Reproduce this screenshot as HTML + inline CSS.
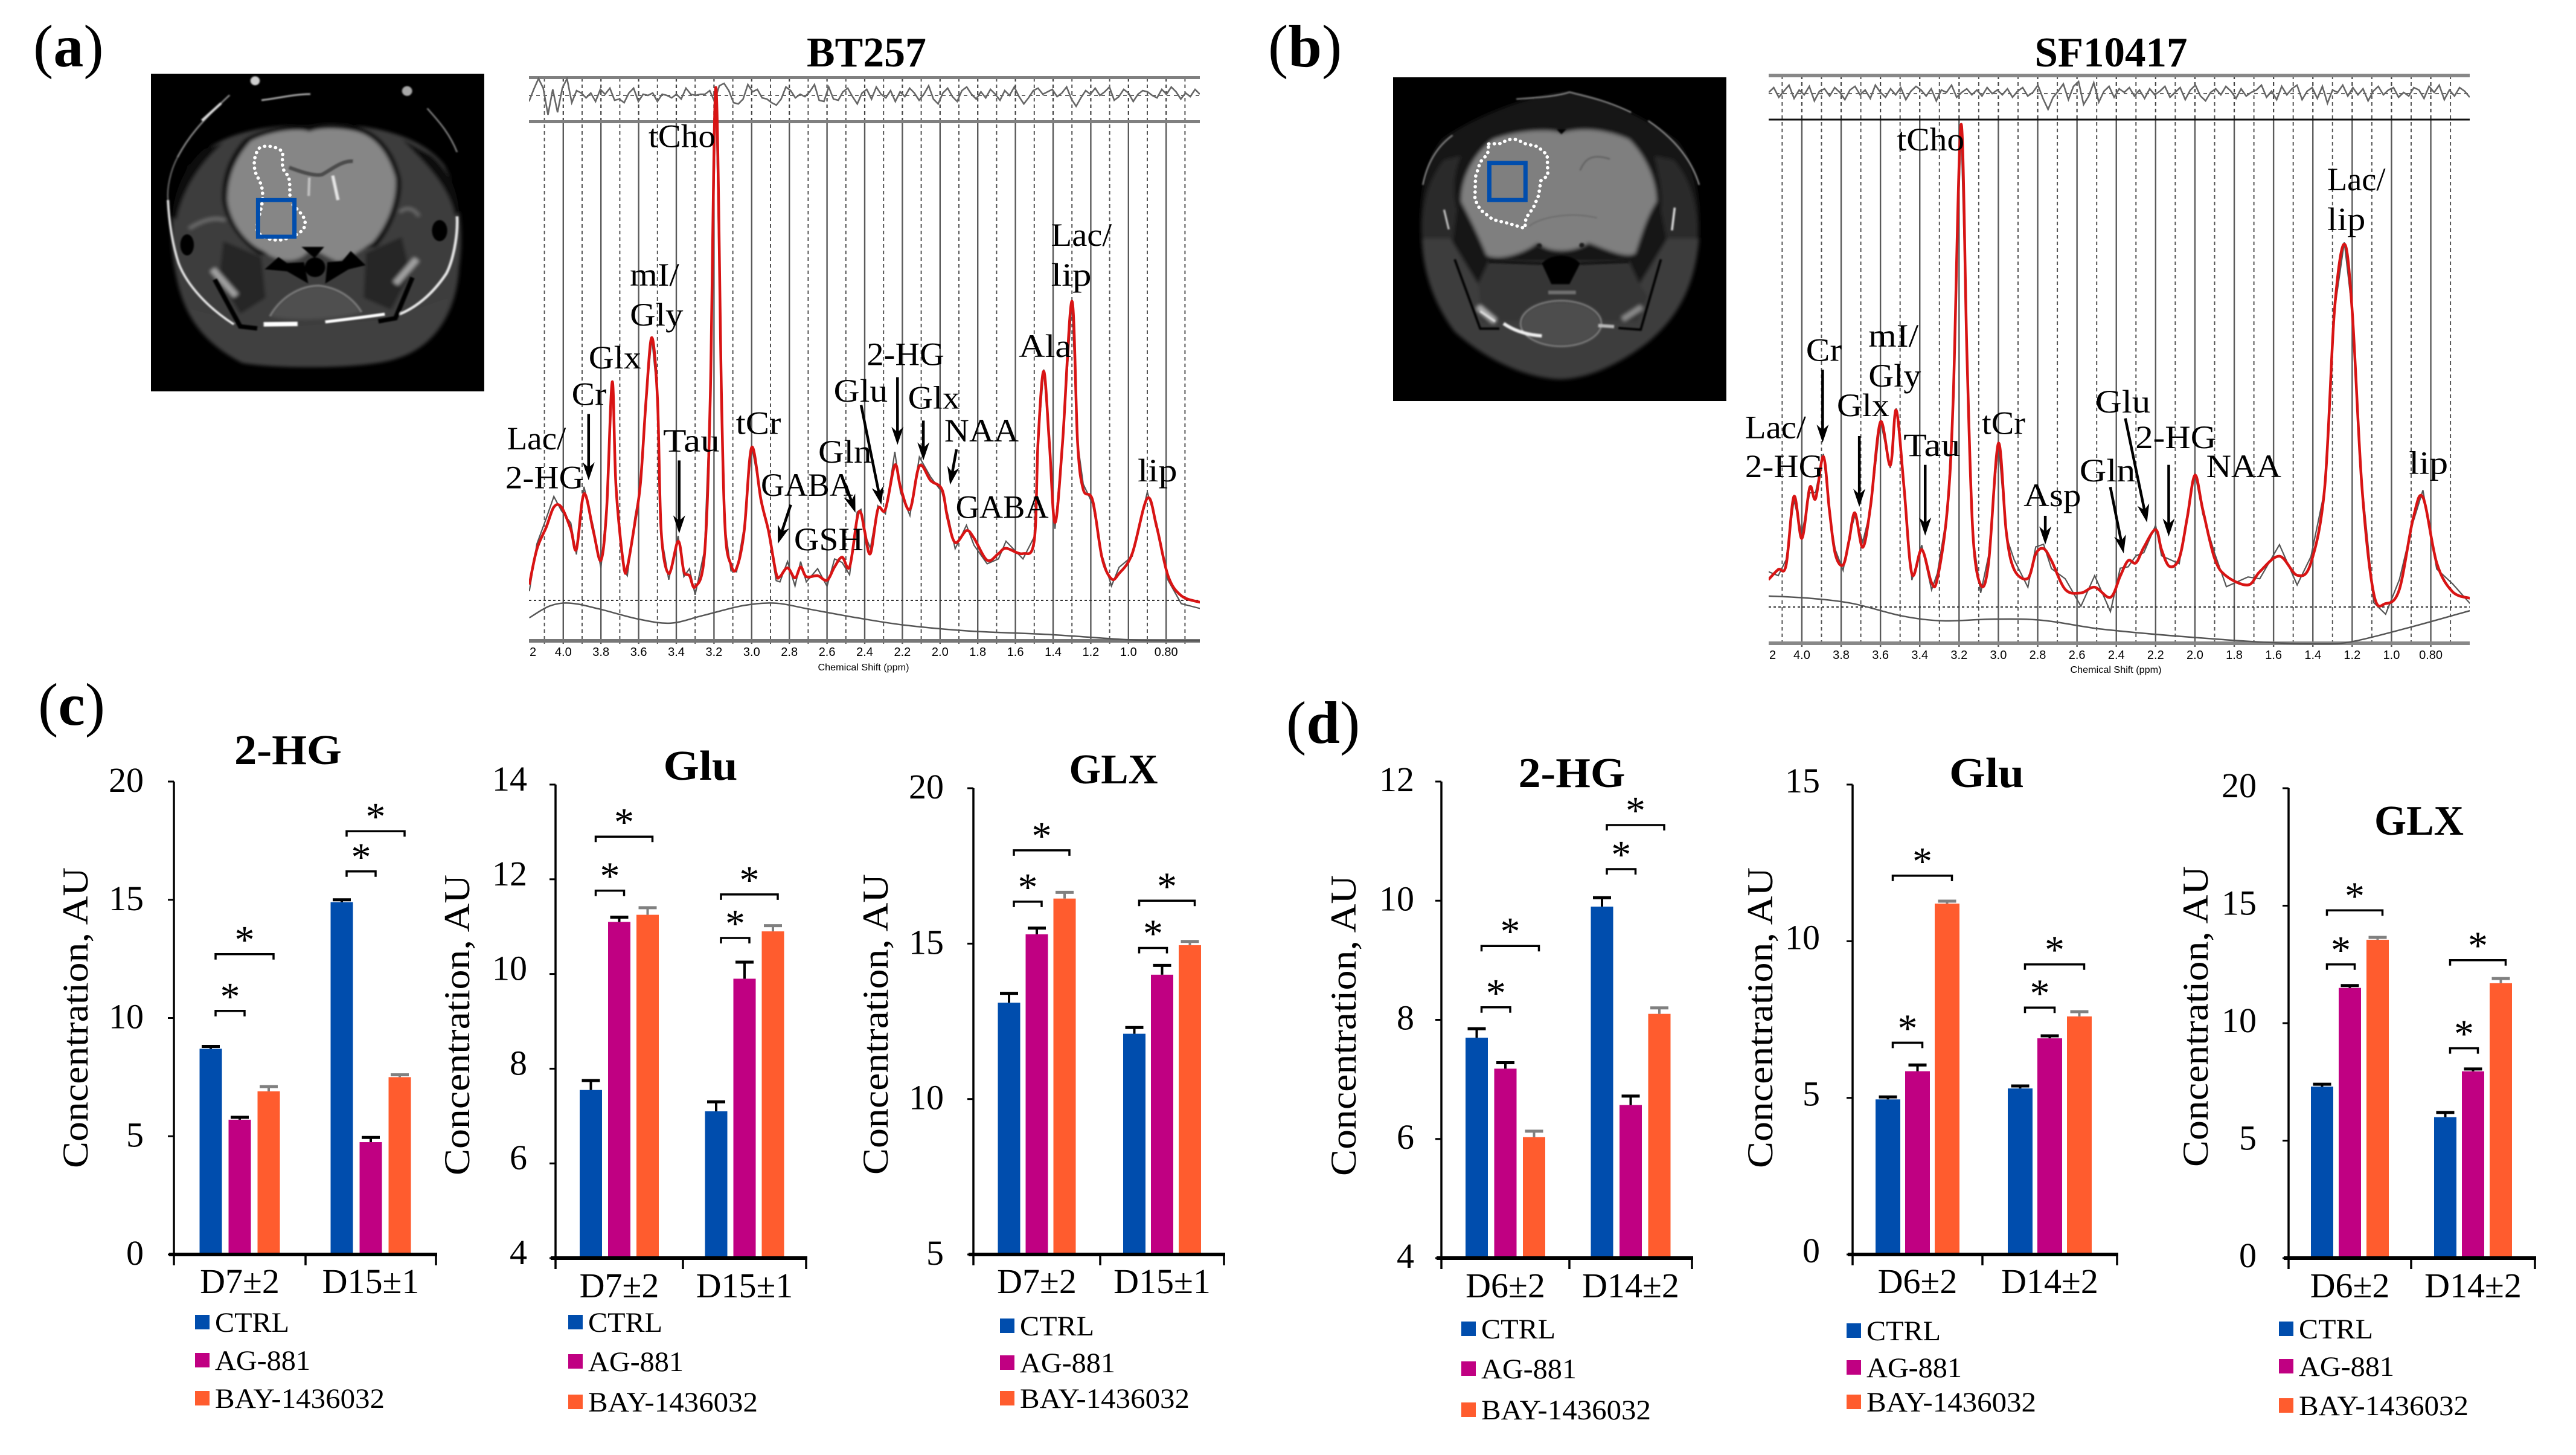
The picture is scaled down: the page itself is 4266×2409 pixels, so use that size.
<!DOCTYPE html>
<html lang="en">
<head>
<meta charset="utf-8">
<title>MRS spectra and metabolite concentrations</title>
<style>
html,body{margin:0;padding:0;background:#fff;}
svg{display:block;}
text{font-family:"Liberation Serif",serif;fill:#000;}
.sans{font-family:"Liberation Sans",sans-serif;}
</style>
</head>
<body>
<svg id="figure" xmlns="http://www.w3.org/2000/svg" width="4266" height="2409" viewBox="0 0 4266 2409">
  <defs>
    <filter id="soft" x="-5%" y="-5%" width="110%" height="110%"><feGaussianBlur stdDeviation="9"></feGaussianBlur></filter>
    <filter id="fine" x="-10%" y="-10%" width="120%" height="120%"><feGaussianBlur stdDeviation="3.5"></feGaussianBlur></filter>
    <clipPath id="clip-a"><rect x="876" y="128" width="1111" height="940"></rect></clipPath>
    <clipPath id="clip-b"><rect x="2929" y="125" width="1161" height="945"></rect></clipPath>
    <clipPath id="mri-clip-a"><rect x="0" y="0" width="1568" height="1559"></rect></clipPath>
    <clipPath id="mri-clip-b"><rect x="0" y="0" width="1568" height="1565"></rect></clipPath>
  </defs>
  <rect width="4266" height="2409" fill="#fff"></rect>

  <g transform="translate(250,122) scale(0.352,0.3374)">
    <rect x="0" y="0" width="1568" height="1559" fill="#000"></rect>
    <g clip-path="url(#mri-clip-a)">
      <g filter="url(#soft)">
        <path d="M780,250 C500,250 300,300 180,450 C90,600 80,800 120,1000 C150,1150 210,1300 430,1420 C600,1450 1000,1450 1150,1400 C1350,1340 1440,1150 1450,950 C1470,800 1460,600 1380,450 C1280,310 1050,240 780,250Z" fill="#3d3d3d"></path>
        <path d="M100,700 C110,560 170,440 250,370 L340,340 C240,430 150,560 120,720Z" fill="#0c0c0c"></path>
        <path d="M1450,680 C1440,560 1400,470 1320,400 L1180,320 C1280,430 1400,540 1430,700Z" fill="#0c0c0c"></path>
        <path d="M745,250 C640,250 520,270 440,320 C360,410 330,520 335,620 C345,720 420,830 510,890 L1060,850 C1130,770 1190,620 1175,510 C1150,400 1090,290 960,255Z" fill="#0e0e0e"></path>
        <path d="M340,820 L520,900 L540,1100 L420,1180 L320,1000Z" fill="#282828"></path>
        <path d="M1180,800 L1010,880 L1000,1100 L1130,1160 L1220,980Z" fill="#262626"></path>
        <path d="M745,285 C700,265 560,280 470,330 C390,420 360,520 360,620 C370,720 440,830 530,870 C600,930 700,930 740,870 C790,860 820,900 880,920 C950,900 990,860 1040,830 C1110,750 1160,620 1150,510 C1120,400 1060,300 950,280 C870,265 790,265 745,285Z" fill="#868686"></path>
        <path d="M170,1150 L520,1250 L1100,1210 L1400,1100 C1370,1260 1280,1350 1150,1400 C1000,1450 600,1450 430,1420 C300,1350 210,1260 170,1150Z" fill="#414141"></path>
        <path d="M560,1190 C620,1080 720,1040 790,1040 C880,1050 950,1100 990,1170 C900,1200 700,1220 560,1190Z" fill="#505050"></path>
        <path d="M290,960 L400,1090" fill="none" stroke="#a0a0a0" stroke-width="30"></path>
        <path d="M1250,910 L1150,1030" fill="none" stroke="#a0a0a0" stroke-width="30"></path>
        <path d="M180,760 C240,720 300,700 350,720" fill="none" stroke="#6c6c6c" stroke-width="16"></path>
        <path d="M1170,680 C1200,650 1240,660 1260,700" fill="none" stroke="#6c6c6c" stroke-width="14"></path>
      </g>
      <g filter="url(#fine)">
        <path d="M650,460 C700,480 770,505 805,495 C850,470 900,425 950,430" fill="none" stroke="#4c4c4c" stroke-width="18"></path>
        <path d="M745,510 L742,600" fill="none" stroke="#c4c4c4" stroke-width="12"></path>
        <path d="M855,500 L880,620" fill="none" stroke="#e6e6e6" stroke-width="15"></path>
        <path d="M708,850 L815,850 L770,905Z" fill="#000"></path>
        <circle cx="772" cy="950" r="48" fill="#000"></circle>
        <path d="M535,960 L600,900 L640,930 L720,925 L740,1030 L640,970Z" fill="#000"></path>
        <path d="M1010,940 L940,870 L900,920 L830,925 L820,1030 L930,960Z" fill="#000"></path>
        <path d="M560,1190 C620,1080 720,1040 790,1040 C880,1050 950,1100 990,1170" fill="none" stroke="#767676" stroke-width="10"></path>
        <path d="M530,1230 L690,1228" fill="none" stroke="#fff" stroke-width="22"></path>
        <path d="M820,1218 C900,1208 1000,1195 1100,1180" fill="none" stroke="#fff" stroke-width="15"></path>
        <path d="M80,620 C85,740 105,850 130,930 C170,1040 270,1150 390,1230" fill="none" stroke="#e6e6e6" stroke-width="11"></path>
        <path d="M1440,700 C1445,800 1420,920 1390,980 C1320,1090 1240,1150 1170,1180" fill="none" stroke="#e6e6e6" stroke-width="13"></path>
        <path d="M125,410 C90,480 75,560 80,620" fill="none" stroke="#7a7a7a" stroke-width="6"></path>
        <path d="M125,410 C170,320 230,240 370,105" fill="none" stroke="#8c8c8c" stroke-width="8"></path>
        <path d="M240,230 L330,145" fill="none" stroke="#dcdcdc" stroke-width="12"></path>
        <path d="M520,130 C600,120 680,100 750,100" fill="none" stroke="#a4a4a4" stroke-width="9"></path>
        <path d="M1300,170 C1340,220 1400,280 1440,385" fill="none" stroke="#8a8a8a" stroke-width="7"></path>
        <circle cx="490" cy="35" r="22" fill="#cfcfcf"></circle>
        <circle cx="1205" cy="85" r="24" fill="#a8a8a8"></circle>
        <path d="M300,1010 L420,1240 L500,1250" fill="none" stroke="#000" stroke-width="22"></path>
        <path d="M1230,1000 L1150,1200 L1070,1215" fill="none" stroke="#000" stroke-width="22"></path>
        <ellipse cx="170" cy="840" rx="32" ry="52" fill="#000"></ellipse>
        <ellipse cx="1358" cy="770" rx="36" ry="52" fill="#000"></ellipse>
      </g>
      <path d="M510,365 C540,345 600,360 620,385 C620,420 610,460 635,490 C660,510 650,560 655,620 C670,660 730,690 725,740 C720,780 670,800 620,815 C570,820 520,810 500,770 C495,720 530,650 525,590 C525,540 500,510 490,480 C480,430 490,390 510,365Z" fill="none" stroke="#fff" stroke-width="16" stroke-linecap="round" stroke-dasharray="1 25"></path>
      <rect x="504" y="620" width="171" height="180" fill="none" stroke="#004dad" stroke-width="20"></rect>
    </g>
  </g>

  <g transform="translate(2307,128) scale(0.352,0.3425)">
    <rect x="0" y="0" width="1568" height="1565" fill="#000"></rect>
    <g clip-path="url(#mri-clip-b)">
      <g filter="url(#soft)">
        <path d="M130,780 C120,600 150,400 230,300 C350,210 600,90 830,70 C1000,100 1200,200 1340,310 C1420,420 1450,600 1440,780 C1420,1000 1350,1150 1200,1280 C1050,1400 900,1460 780,1460 C600,1450 420,1350 290,1230 C180,1080 140,920 130,780Z" fill="#141414"></path>
        <path d="M140,780 C130,640 160,500 240,400 L320,380 C280,470 280,560 300,640 L280,800Z" fill="#2a2a2a"></path>
        <path d="M1430,780 C1440,640 1400,490 1320,400 L1230,380 C1250,470 1270,560 1260,640 L1290,800Z" fill="#2a2a2a"></path>
        <path d="M140,780 L270,780 L400,1000 L450,890 L1110,890 L1160,1000 L1290,780 L1440,780 C1420,1000 1350,1150 1200,1280 C1050,1400 900,1460 780,1460 C600,1450 420,1350 290,1230 C180,1080 140,920 140,780Z" fill="#3c3c3c"></path>
        <path d="M400,1000 L450,890 L1110,890 L1160,1000 L1200,1060 L1150,1180 L420,1180Z" fill="#363636"></path>
        <path d="M790,270 C760,250 600,250 470,300 C380,370 320,480 320,600 C360,680 400,760 440,860 C500,890 620,850 680,800 C730,850 850,850 920,800 C1000,830 1100,880 1140,850 C1170,760 1190,680 1240,600 C1240,500 1190,380 1110,300 C1000,250 880,240 790,270Z" fill="#7f7f7f"></path>
        <ellipse cx="790" cy="1190" rx="190" ry="110" fill="#4e4e4e"></ellipse>
        <path d="M400,1110 L480,1180" fill="none" stroke="#b8b8b8" stroke-width="26"></path>
        <path d="M1170,1110 L1080,1170" fill="none" stroke="#8e8e8e" stroke-width="24"></path>
      </g>
      <g filter="url(#fine)">
        <path d="M770,250 L815,250 L792,275Z" fill="#000"></path>
        <path d="M880,450 C900,400 930,365 1020,395" fill="none" stroke="#646464" stroke-width="8"></path>
        <path d="M640,720 C700,670 850,650 960,680" fill="none" stroke="#6a6a6a" stroke-width="6"></path>
        <path d="M700,900 C740,850 840,850 880,900 L830,1000 L745,1000Z" fill="#000"></path>
        <path d="M450,890 L700,900" fill="none" stroke="#141414" stroke-width="14"></path>
        <path d="M880,900 L1110,890" fill="none" stroke="#141414" stroke-width="14"></path>
        <circle cx="688" cy="815" r="12" fill="#1c1c1c"></circle>
        <circle cx="888" cy="812" r="12" fill="#1c1c1c"></circle>
        <ellipse cx="790" cy="1190" rx="190" ry="110" fill="none" stroke="#7a7a7a" stroke-width="8"></ellipse>
        <path d="M730,1040 L860,1040" fill="none" stroke="#707070" stroke-width="18"></path>
        <path d="M520,1190 C570,1225 630,1245 700,1250" fill="none" stroke="#f0f0f0" stroke-width="16"></path>
        <path d="M965,1200 L1040,1205" fill="none" stroke="#b8b8b8" stroke-width="16"></path>
        <path d="M410,1130 L480,1180" fill="none" stroke="#dcdcdc" stroke-width="10"></path>
        <path d="M290,880 L410,1215 L500,1215" fill="none" stroke="#000" stroke-width="11"></path>
        <path d="M1260,880 L1165,1220 L1060,1212" fill="none" stroke="#000" stroke-width="11"></path>
        <path d="M240,640 L262,735" fill="none" stroke="#c8c8c8" stroke-width="9"></path>
        <path d="M1325,630 L1312,740" fill="none" stroke="#e0e0e0" stroke-width="10"></path>
        <path d="M140,520 C160,420 200,340 280,280" fill="none" stroke="#8c8c8c" stroke-width="7"></path>
        <path d="M580,105 C650,100 760,95 830,72 C900,90 1000,110 1120,170" fill="none" stroke="#a0a0a0" stroke-width="6"></path>
        <path d="M1200,210 C1300,280 1400,380 1440,520" fill="none" stroke="#969696" stroke-width="7"></path>
      </g>
      <path d="M450,322 L510,320 C540,295 580,290 610,318 L680,335 L725,375 L728,475 L695,500 L685,570 L660,630 L625,680 L620,730 L540,705 L470,688 L410,640 L385,590 L388,480 L410,410 L445,370Z" fill="none" stroke="#fff" stroke-width="16" stroke-linecap="round" stroke-dasharray="1 25"></path>
      <rect x="453" y="414" width="170" height="179" fill="none" stroke="#004dad" stroke-width="20"></rect>
    </g>
  </g>
</svg>
<script>
/* ---------- spectrum data: ppm positions and signal intensity (arbitrary units) ---------- */
const ppmA = [4.18,4.14,4.09,4.05,4.01,3.96,3.93,3.89,3.84,3.80,3.77,3.74,3.72,3.68,3.66,3.62,3.59,3.56,3.53,3.50,3.48,3.44,3.39,3.36,3.33,3.30,3.25,3.22,3.19,3.16,3.14,3.11,3.08,3.04,3.00,2.95,2.91,2.87,2.85,2.81,2.77,2.74,2.71,2.65,2.60,2.56,2.52,2.48,2.44,2.42,2.40,2.37,2.33,2.29,2.24,2.21,2.16,2.11,2.05,1.99,1.96,1.92,1.86,1.82,1.75,1.69,1.65,1.56,1.50,1.48,1.45,1.42,1.39,1.35,1.30,1.27,1.24,1.19,1.14,1.09,1.05,0.98,0.90,0.85,0.79,0.72,0.62];
const fitA = [12.7,20.7,25.7,30.2,30.2,25.2,20.7,33.2,24.7,18.2,29.7,58.5,34.7,17.2,16.7,26.7,35.7,54.7,68.5,54.7,24.7,15.2,22.5,15.7,14.7,12.2,19.7,54.7,125,54.7,24.7,17.2,16.4,24.7,43.7,31.7,24.7,15.2,14.5,16.5,14.2,16.7,14.5,14.7,13.7,16.7,18.9,16.7,27.7,28.9,24.7,19.7,29.7,29.7,39.7,34.7,29.7,39.5,36.2,34.2,27.7,22.2,24.9,23.2,18.2,19.7,20.9,19.7,22.7,44.7,60.9,44.7,26.7,44.7,76.7,44.7,34.2,31.7,18.7,14.0,15.2,19.7,32.2,25.7,14.7,10.2,8.7];
const rawOffsetA = [-1.5,1.2,2.0,2.4,-0.8,1.4,-1.2,1.6,1.0,-1.8,0.6,0,0.8,-1.2,-2.0,1.2,-0.6,0.4,0,0.6,-0.8,-1.4,1.2,-1.2,1.6,-1.8,0.8,0,0,0,0.6,-1.4,-0.8,1.0,0.4,0.8,-0.6,-1.6,-1.2,1.4,-1.8,1.2,-1.2,1.6,-1.4,1.8,-1.2,-1.8,1.4,0.8,-0.6,1.2,0.8,-1.0,3.0,-1.2,-1.4,2.0,0.8,-0.6,1.0,-1.4,1.2,-1.6,-0.8,-1.2,1.6,-1.2,0.8,0,0.4,0,-1.4,0,0,0,1.2,-0.8,0.6,-1.6,1.4,-0.6,1.4,0.8,-1.0,-1.8,-1.4];
const baselinePpmA = [4.18,4.07,3.96,3.81,3.60,3.43,3.26,3.04,2.87,2.70,2.44,2.18,1.84,1.41,0.98,0.62];
const baselineA = [5.2,7.9,8.5,7.2,4.9,4.0,5.7,8.0,8.5,7.2,5.2,3.5,2.2,1.4,0.2,0];
const residualA = [-10,10,28,12,-32,10,-28,12,28,-12,8,4,-4,4,-10,10,2,12,-8,-6,-12,4,12,-10,2,0,4,-10,2,0,-4,2,-6,12,2,0,2,2,8,-10,16,20,8,-12,-14,-6,18,6,10,-4,-6,-12,-16,-6,14,8,-4,2,-2,6,18,-8,-10,14,-6,-8,6,12,-2,-14,4,10,-6,14,2,-4,8,-10,6,-2,12,4,-8,2,16,-6,-14,4,12,-2,-10,8,14,2,-6,6,-4,10,2,-8,8,0,14,-2,-14,-4,8,12,2,6,10,-2,4,14,-6,-18,-4,8,2,12,0,6,14,-8,-2,10,4,-10,2,8,6,0,-4,10,2,14,6,-6,4,-2,10,2];
const ppmB = [4.17,4.12,4.08,4.04,4.00,3.96,3.93,3.89,3.86,3.83,3.79,3.76,3.73,3.69,3.65,3.60,3.55,3.52,3.48,3.44,3.39,3.34,3.31,3.26,3.23,3.19,3.16,3.13,3.09,3.05,3.00,2.96,2.92,2.85,2.81,2.77,2.73,2.66,2.58,2.51,2.43,2.38,2.34,2.30,2.26,2.20,2.17,2.13,2.08,2.04,2.00,1.96,1.90,1.84,1.73,1.67,1.57,1.48,1.41,1.34,1.29,1.24,1.20,1.15,1.09,1.03,0.96,0.89,0.84,0.77,0.69,0.60];
const fitB = [14.5,16.8,17.8,33.3,23.8,35.3,32.8,42.3,30.3,20.3,17.8,23.3,29.6,21.8,31.3,50.1,40.3,52.8,35.3,15.8,21.3,13.8,14.8,30.3,55.3,117.3,65.3,25.3,13.3,18.3,45.3,25.3,16.8,14.8,20.3,21.5,18.8,12.3,11.5,12.8,10.5,15.3,18.8,18.3,21.8,25.8,21.3,17.5,19.3,28.3,38.1,30.3,19.3,15.3,13.3,16.3,19.8,15.5,18.3,35.3,75.3,90.3,75.3,35.3,11.3,9.1,12.3,28.3,33.1,18.3,11.8,10.3];
const rawOffsetB = [1.8,-1.4,1.2,-0.8,1.0,-1.2,1.4,0.6,-0.8,1.0,-1.2,0.8,-0.6,1.2,-1.0,0.4,-0.6,0.4,0.8,-1.4,1.0,-1.6,1.2,-0.6,0.4,0,0.6,-0.8,-1.8,1.6,0.4,-1.0,2.2,-2.0,1.6,1.0,-1.8,2.4,-3.0,2.6,-3.2,1.8,-1.4,1.6,-1.2,1.0,-1.4,1.6,-1.2,0.8,0.6,-1.0,1.2,-2.4,1.8,-1.6,2.6,-2.2,1.4,-0.6,0,0.4,0,0.8,-2.0,-2.4,2.2,-0.8,1.6,-1.4,1.8,-1.2];
const baselinePpmB = [4.17,3.96,3.74,3.49,3.28,3.02,2.77,2.47,2.05,1.62,1.37,1.20,0.90,0.60];
const baselineB = [10.8,10.3,9.1,6.3,5.2,5.6,5.3,3.3,1.6,0.3,0,0.5,3.8,7.5];
const residualB = [2,10,-6,4,14,-8,6,-2,12,-12,4,8,-4,10,2,-10,6,12,-2,6,-8,14,2,-6,8,-2,10,-10,4,12,6,-4,8,-12,6,2,14,-6,2,8,-2,6,-4,10,0,6,-2,8,-6,4,10,-4,2,14,-8,-26,-6,4,16,-10,12,20,-18,-4,18,-14,4,12,-6,8,2,10,-4,6,-8,8,-2,4,12,-6,2,10,-10,6,14,-4,-12,2,8,-2,12,4,-8,8,-4,2,6,14,-6,4,-10,12,-2,8,14,-10,4,10,-8,12,-16,6,2,14,-4,10,-2,8,-12,4,12,-2,6,10,-6,2,-4,10,6,-8,12,2,14,-10,6,-4,10,4,-6];

const gridSolidPpm = [4.0,3.8,3.6,3.4,3.2,3.0,2.8,2.6,2.4,2.2,2.0,1.8,1.6,1.4,1.2,1.0,0.8];
const gridDashedPpm = [4.1,3.9,3.7,3.5,3.3,3.1,2.9,2.7,2.5,2.3,2.1,1.9,1.7,1.5,1.3,1.1,0.9,0.7];
const ppmTickLabels = ['4.0','3.8','3.6','3.4','3.2','3.0','2.8','2.6','2.4','2.2','2.0','1.8','1.6','1.4','1.2','1.0','0.80'];

/* ---------- bar-chart data ---------- */
const seriesLabels = ['CTRL','AG-881','BAY-1436032'];
const categoriesC = ['D7±2','D15±1'];
const categoriesD = ['D6±2','D14±2'];

const c1Ctrl = [8.7,14.9];  const c1Ag = [5.7,4.75]; const c1Bay = [6.9,7.5];
const c1CtrlErr = [0.1,0.1]; const c1AgErr = [0.1,0.2]; const c1BayErr = [0.2,0.1];
const c1Ticks = [0,5,10,15,20];
const c1Brackets = [[0,1,10.3],[0,2,12.7],[1,1,16.2],[1,2,17.9]];

const c2Ctrl = [7.55,7.1];  const c2Ag = [11.1,9.9]; const c2Bay = [11.25,10.9];
const c2CtrlErr = [0.2,0.2]; const c2AgErr = [0.1,0.35]; const c2BayErr = [0.15,0.12];
const c2Ticks = [4,6,8,10,12,14];
const c2Brackets = [[0,1,11.76],[0,2,12.9],[1,1,10.76],[1,2,11.68]];

const c3Ctrl = [13.1,12.1]; const c3Ag = [15.3,14.0]; const c3Bay = [16.45,14.95];
const c3CtrlErr = [0.3,0.2]; const c3AgErr = [0.2,0.3]; const c3BayErr = [0.2,0.12];
const c3Ticks = [5,10,15,20];
const c3Brackets = [[0,1,16.35],[0,2,18.0],[1,1,14.86],[1,2,16.38]];

const d1Ctrl = [7.7,9.9];   const d1Ag = [7.18,6.57]; const d1Bay = [6.03,8.1];
const d1CtrlErr = [0.15,0.15]; const d1AgErr = [0.1,0.15]; const d1BayErr = [0.1,0.1];
const d1Ticks = [4,6,8,10,12];
const d1Brackets = [[0,1,8.21],[0,2,9.24],[1,1,10.53],[1,2,11.27]];

const d2Ctrl = [4.95,5.3];  const d2Ag = [5.85,6.9]; const d2Bay = [11.2,7.6];
const d2CtrlErr = [0.08,0.08]; const d2AgErr = [0.2,0.08]; const d2BayErr = [0.08,0.15];
const d2Ticks = [0,5,10,15];
const d2Brackets = [[0,1,6.76],[0,2,12.09],[1,1,7.88],[1,2,9.26]];

const d3Ctrl = [7.3,6.0];   const d3Ag = [11.5,7.95]; const d3Bay = [13.55,11.7];
const d3CtrlErr = [0.1,0.2]; const d3AgErr = [0.1,0.1]; const d3BayErr = [0.1,0.2];
const d3Ticks = [0,5,10,15,20];
const d3Brackets = [[0,1,12.5],[0,2,14.8],[1,1,8.93],[1,2,12.68]];

const seriesColors = ['#004dad','#c00082','#ff5c2e'];
const errorColors = ['#000','#000','#808080'];

/* ---------- helpers ---------- */
const NS = 'http://www.w3.org/2000/svg';
const svgRoot = document.getElementById('figure');
function mk(tag, parent, attrs, txt){
  const n = document.createElementNS(NS, tag);
  for (const k in attrs) n.setAttribute(k, attrs[k]);
  if (txt !== undefined) n.textContent = txt;
  parent.appendChild(n);
  return n;
}
function smooth(pts){
  let d = 'M' + pts[0][0].toFixed(1) + ',' + pts[0][1].toFixed(1);
  for (let i = 0; i < pts.length - 1; i++){
    const p0 = pts[Math.max(i-1,0)], p1 = pts[i], p2 = pts[i+1], p3 = pts[Math.min(i+2,pts.length-1)];
    const c1x = p1[0] + (p2[0]-p0[0])/6, c1y = p1[1] + (p2[1]-p0[1])/6;
    const c2x = p2[0] - (p3[0]-p1[0])/6, c2y = p2[1] - (p3[1]-p1[1])/6;
    d += 'C' + c1x.toFixed(1) + ',' + c1y.toFixed(1) + ' ' + c2x.toFixed(1) + ',' + c2y.toFixed(1) + ' ' + p2[0].toFixed(1) + ',' + p2[1].toFixed(1);
  }
  return d;
}
function poly(pts){
  return 'M' + pts.map(p => p[0].toFixed(1) + ',' + p[1].toFixed(1)).join('L');
}

/* ---------- panel tags ---------- */
const panelTags = [['a',55,110],['b',2100,110],['c',63,1200],['d',2130,1230]];
panelTags.forEach(t => {
  const tag = mk('text', svgRoot, {x:t[1], y:t[2], 'font-size':100});
  
  
  mk('tspan', tag, {}, '(');
  mk('tspan', tag, {'font-weight':'bold'}, t[0]);
  mk('tspan', tag, {}, ')');
});

/* ---------- spectra ---------- */
const spectra = [
 {id:'a', title:'BT257', titleX:1435, titleLen:198, clip:'clip-a', xZero:870.4, xSlope:312, ppmLeft:4.2, x0:876, x1:1987, yBase:1061,
  topBar:[126,'#808080',5], midBar:[201.5,'#808080',5], botBar:[1061,'#777',6], gridTop:129, gridMid:204, gridBot:1066, dotY:994, resY:158,
  ppm:ppmA, fit:fitA, raw:rawOffsetA, basePpm:baselinePpmA, base:baselineA, residual:residualA, labelY:1086, chemX:1430, chemY:1110,
  zx:1.339, zOff:0,
  labels:[['Lac/',627,1015,73],['2-HG',625,1103,97],['Cr',707,915,43],['Glx',728,832,65],['mI/',779,645,61],['Gly',779,735,66],['tCho',802,332,83],['Tau',820,1020,70],['tCr',910,980,56],['GABA',941,1120,114],['GSH',982,1243,86],['Gln',1012,1045,66],['Glu',1031,907,67],['2-HG',1072,825,96],['Glx',1123,923,64],['NAA',1168,997,92],['GABA',1182,1170,115],['Ala',1260,806,65],['Lac/',1300,555,75],['lip',1300,645,50],['lip',1407,1087,49]],
  arrows:[['Cr',728,935,728,1085],['Tau',840,1040,840,1205],['GABA',978,1140,962,1228],['Gln',1046,1095,1058,1158],['Glu',1065,915,1090,1140],['2-HG',1110,852,1110,1005],['Glx',1142,950,1142,1040],['NAA',1183,1015,1175,1095]]},
 {id:'b', title:'SF10417', titleX:3496, titleLen:253, clip:'clip-b', xZero:2928.6, xSlope:325.5, ppmLeft:4.17, x0:2929, x1:4090, yBase:1066,
  topBar:[122,'#888',6], midBar:[198,'#111',3], botBar:[1065,'#888',6], gridTop:125, gridMid:199, gridBot:1071, dotY:1005, resY:155,
  ppm:ppmB, fit:fitB, raw:rawOffsetB, basePpm:baselinePpmB, base:baselineB, residual:residualB, labelY:1091, chemX:3504, chemY:1114,
  zx:1.381, zOff:2100,
  labels:[['Lac/',572,990,73],['2-HG',572,1078,94],['Cr',645,815,43],['Glx',682,940,63],['mI/',720,783,60],['Gly',720,873,63],['tCho',754,340,81],['Tau',762,1030,68],['tCr',856,980,52],['Asp',906,1143,69],['Gln',973,1087,67],['Glu',992,932,66],['2-HG',1040,1012,97],['NAA',1125,1078,90],['Lac/',1270,430,70],['lip',1270,520,46],['lip',1368,1070,47]],
  arrows:[['Cr',665,835,665,1000],['Glx',709,985,709,1145],['Tau',788,1050,788,1210],['Asp',932,1165,932,1230],['Gln',1010,1100,1026,1250],['Glu',1028,945,1054,1180],['2-HG',1080,1050,1080,1212]]}
];

spectra.forEach(sp => {
  const g = mk('g', svgRoot, {});
  
  
  const sx = ppm => sp.xZero + (sp.ppmLeft - ppm) * sp.xSlope;
  const sy = v => sp.yBase - v * 7.33;

  const heading = mk('text', g, {x:sp.titleX, y:110, 'text-anchor':'middle', 'font-size':70, 'font-weight':'bold', textLength:sp.titleLen, lengthAdjust:'spacingAndGlyphs'}, sp.title);
  
  

  gridSolidPpm.forEach(p => {
    const l = mk('line', g, {x1:sx(p), x2:sx(p), y1:sp.gridMid, y2:sp.gridBot, stroke:'#5a5a5a', 'stroke-width':2.4});
    
    
    const r = mk('line', g, {x1:sx(p), x2:sx(p), y1:sp.gridTop, y2:sp.gridMid, stroke:'#444', 'stroke-width':2.2, 'stroke-dasharray':'6 5'});
    
    
  });
  gridDashedPpm.forEach(p => {
    const l = mk('line', g, {x1:sx(p), x2:sx(p), y1:sp.gridTop, y2:sp.gridBot, stroke:'#555', 'stroke-width':2, 'stroke-dasharray':'6 5'});
    
    
  });

  const tb = mk('rect', g, {x:sp.x0, width:sp.x1-sp.x0, y:sp.topBar[0], height:sp.topBar[2], fill:sp.topBar[1]});
  
  
  const mb = mk('rect', g, {x:sp.x0, width:sp.x1-sp.x0, y:sp.midBar[0]-sp.midBar[2]/2, height:sp.midBar[2], fill:sp.midBar[1]});
  
  
  const bb = mk('rect', g, {x:sp.x0, width:sp.x1-sp.x0, y:sp.botBar[0]-3, height:sp.botBar[2], fill:sp.botBar[1]});
  
  
  const resMid = mk('line', g, {x1:sp.x0, x2:sp.x1, y1:sp.resY, y2:sp.resY, stroke:'#666', 'stroke-width':2, 'stroke-dasharray':'6 6'});
  
  
  const dot = mk('line', g, {x1:sp.x0, x2:sp.x1, y1:sp.dotY, y2:sp.dotY, stroke:'#333', 'stroke-width':2, 'stroke-dasharray':'4 4'});
  
  

  const clipG = mk('g', g, {'clip-path':'url(#' + sp.clip + ')'});
  
  
  const n = sp.residual.length;
  const resPts = sp.residual.map((v,i) => [sp.x0 + i*(sp.x1-sp.x0)/(n-1), sp.resY - v]);
  const res = mk('path', clipG, {d:poly(resPts), fill:'none', stroke:'#666', 'stroke-width':2.6});
  
  

  const basePts = sp.basePpm.map((p,i) => [sx(p), sy(sp.base[i])]);
  const base = mk('path', clipG, {d:smooth(basePts), fill:'none', stroke:'#555', 'stroke-width':2.5});
  
  

  const rawPts = sp.ppm.map((p,i) => [sx(p), sy(sp.fit[i] + (sp.raw[i] || 0))]);
  const raw = mk('path', clipG, {d:poly(rawPts), fill:'none', stroke:'#555', 'stroke-width':2.2});
  
  

  const fitPts = sp.ppm.map((p,i) => [sx(p), sy(sp.fit[i])]);
  const fit = mk('path', clipG, {d:smooth(fitPts), fill:'none', stroke:'#d81414', 'stroke-width':4.5, 'stroke-linejoin':'round'});
  
  

  ppmTickLabels.forEach(t => {
    const lab = mk('text', g, {class:'sans', x:sx(parseFloat(t)), y:sp.labelY, 'text-anchor':'middle', 'font-size':20, fill:'#222'}, t);
    
    
  });
  const edge = mk('text', g, {class:'sans', x:sp.x0 + 1, y:sp.labelY, 'font-size':20, fill:'#222'}, '2');
  
  
  const chem = mk('text', g, {class:'sans', x:sp.chemX, y:sp.chemY, 'text-anchor':'middle', 'font-size':16, textLength:151, lengthAdjust:'spacingAndGlyphs', fill:'#222'}, 'Chemical Shift (ppm)');
  
  

  const px = z => sp.zOff + sp.zx * z;
  const py = z => 0.733 * z;
  sp.labels.forEach(l => {
    const t = mk('text', g, {x:px(l[1]), y:py(l[2]), 'font-size':54, textLength:l[3]*sp.zx, lengthAdjust:'spacingAndGlyphs'}, l[0]);
    
    
  });
  sp.arrows.forEach(a => {
    const x1 = px(a[1]), y1 = py(a[2]), x2 = px(a[3]), y2 = py(a[4]);
    const len = Math.hypot(x2-x1, y2-y1), ux = (x2-x1)/len, uy = (y2-y1)/len;
    const hl = 30, hw = 10;
    const shaft = mk('line', g, {x1:x1, y1:y1, x2:x2-ux*hl*0.6, y2:y2-uy*hl*0.6, stroke:'#000', 'stroke-width':4.5});
    
    
    const head = mk('path', g, {d:'M' + x2 + ',' + y2 + 'L' + (x2-ux*hl-uy*hw) + ',' + (y2-uy*hl+ux*hw) + 'L' + (x2-ux*hl*0.7) + ',' + (y2-uy*hl*0.7) + 'L' + (x2-ux*hl+uy*hw) + ',' + (y2-uy*hl-ux*hw) + 'Z', fill:'#000'});
    
    
  });
});

/* ---------- bar charts ---------- */
const charts = [
 {id:'c1', title:'2-HG', cats:categoriesC, vals:[c1Ctrl,c1Ag,c1Bay], errs:[c1CtrlErr,c1AgErr,c1BayErr], ticks:c1Ticks, brackets:c1Brackets,
  x0:288, xm:506, x1:722, top:1294, bottom:2077, step:48, barW:37, tickGap:50, labelShift:0, xLabelY:2141,
  titleX:477, titleY:1265, titleLen:178, yTitleX:145, yTitleY:1685, legendX:323, legendY:[2189,2252,2315]},
 {id:'c2', title:'Glu', cats:categoriesC, vals:[c2Ctrl,c2Ag,c2Bay], errs:[c2CtrlErr,c2AgErr,c2BayErr], ticks:c2Ticks, brackets:c2Brackets,
  x0:920, xm:1131, x1:1335, top:1299, bottom:2083, step:47, barW:37, tickGap:47, labelShift:-7, xLabelY:2148,
  titleX:1160, titleY:1291, titleLen:123, yTitleX:777, yTitleY:1697, legendX:941, legendY:[2189,2254,2321]},
 {id:'c3', title:'GLX', cats:categoriesC, vals:[c3Ctrl,c3Ag,c3Bay], errs:[c3CtrlErr,c3AgErr,c3BayErr], ticks:c3Ticks, brackets:c3Brackets,
  x0:1612, xm:1822, x1:2027, top:1305, bottom:2077, step:46, barW:37, tickGap:49, labelShift:0, xLabelY:2141,
  titleX:1844, titleY:1297, titleLen:147, yTitleX:1470, yTitleY:1696, legendX:1656, legendY:[2195,2256,2315]},
 {id:'d1', title:'2-HG', cats:categoriesD, vals:[d1Ctrl,d1Ag,d1Bay], errs:[d1CtrlErr,d1AgErr,d1BayErr], ticks:d1Ticks, brackets:d1Brackets,
  x0:2387, xm:2599, x1:2802, top:1294, bottom:2083, step:47.5, barW:37, tickGap:45, labelShift:-1, xLabelY:2148,
  titleX:2603, titleY:1303, titleLen:177, yTitleX:2245, yTitleY:1698, legendX:2420, legendY:[2200,2266,2334]},
 {id:'d2', title:'Glu', cats:categoriesD, vals:[d2Ctrl,d2Ag,d2Bay], errs:[d2CtrlErr,d2AgErr,d2BayErr], ticks:d2Ticks, brackets:d2Brackets,
  x0:3068, xm:3283, x1:3506, top:1299, bottom:2077, step:49, barW:41, tickGap:54, labelShift:-4, xLabelY:2141,
  titleX:3290, titleY:1303, titleLen:124, yTitleX:2935, yTitleY:1685, legendX:3058, legendY:[2203,2264,2321]},
 {id:'d3', title:'GLX', cats:categoriesD, vals:[d3Ctrl,d3Ag,d3Bay], errs:[d3CtrlErr,d3AgErr,d3BayErr], ticks:d3Ticks, brackets:d3Brackets,
  x0:3790, xm:3993, x1:4198, top:1305, bottom:2083, step:46, barW:37, tickGap:53, labelShift:-2, xLabelY:2148,
  titleX:4006, titleY:1382, titleLen:148, yTitleX:3656, yTitleY:1683, legendX:3774, legendY:[2200,2262,2327]}
];

charts.forEach(c => {
  const g = mk('g', svgRoot, {});
  
  
  const yMin = c.ticks[0], yMax = c.ticks[c.ticks.length-1];
  const y = v => c.bottom - (v - yMin) / (yMax - yMin) * (c.bottom - c.top);
  const groupCenter = i => i === 0 ? (c.x0 + c.xm) / 2 : (c.xm + c.x1) / 2;
  const barCenter = (grp, s) => groupCenter(grp) + (s - 1) * c.step;

  const title = mk('text', g, {x:c.titleX, y:c.titleY, 'text-anchor':'middle', 'font-size':70, 'font-weight':'bold', textLength:c.titleLen, lengthAdjust:'spacingAndGlyphs'}, c.title);
  
  

  const yTitle = mk('text', g, {transform:'translate(' + c.yTitleX + ',' + c.yTitleY + ') rotate(-90)', 'text-anchor':'middle', 'font-size':60, textLength:498, lengthAdjust:'spacingAndGlyphs'}, 'Concentration, AU');
  
  

  c.vals.forEach((series, s) => {
    series.forEach((v, i) => {
      const bx = barCenter(i, s) - c.barW / 2;
      const bar = mk('rect', g, {x:bx, y:y(v), width:c.barW, height:c.bottom - y(v), fill:seriesColors[s]});
      
      
      const e = c.errs[s][i];
      const cx = barCenter(i, s);
      const stem = mk('line', g, {x1:cx, x2:cx, y1:y(v), y2:y(v + e), stroke:errorColors[s], 'stroke-width':4});
      
      
      const cap = mk('line', g, {x1:cx - 15, x2:cx + 15, y1:y(v + e), y2:y(v + e), stroke:errorColors[s], 'stroke-width':5});
      
      
    });
  });

  const yAxis = mk('line', g, {x1:c.x0, x2:c.x0, y1:c.top, y2:c.bottom, stroke:'#000', 'stroke-width':3.5});
  
  
  const xAxis = mk('line', g, {x1:c.x0 - 8, x2:c.x1 + 2, y1:c.bottom, y2:c.bottom, stroke:'#000', 'stroke-width':6});
  
  
  [c.x0, c.xm, c.x1].forEach(tx => {
    const t = mk('line', g, {x1:tx, x2:tx, y1:c.bottom, y2:c.bottom + 18, stroke:'#000', 'stroke-width':3.5});
    
    
  });
  c.ticks.forEach(v => {
    const t = mk('line', g, {x1:c.x0 - 10, x2:c.x0, y1:y(v), y2:y(v), stroke:'#000', 'stroke-width':3});
    
    
    const lab = mk('text', g, {x:c.x0 - c.tickGap, y:y(v) + 17 + c.labelShift, 'text-anchor':'end', 'font-size':58}, String(v));
    
    
  });
  c.cats.forEach((cat, i) => {
    const lab = mk('text', g, {x:groupCenter(i), y:c.xLabelY, 'text-anchor':'middle', 'font-size':58}, cat);
    
    
  });

  c.brackets.forEach(b => {
    const lx = barCenter(b[0], 0) + 8, rx = barCenter(b[0], b[1]) + 8, by = y(b[2]);
    const br = mk('path', g, {d:'M' + lx + ',' + (by + 9) + 'V' + by + 'H' + rx + 'V' + (by + 9), fill:'none', stroke:'#000', 'stroke-width':3.5});
    
    
    const star = mk('text', g, {x:(lx + rx) / 2, y:by - 2, 'text-anchor':'middle', 'font-size':66}, '*');
    
    
  });

  const legendWidths = [123,158,281];
  seriesLabels.forEach((name, s) => {
    const sw = mk('rect', g, {x:c.legendX, y:c.legendY[s] - 12, width:24, height:24, fill:seriesColors[s]});
    
    
    const lt = mk('text', g, {x:c.legendX + 33, y:c.legendY[s] + 16, 'font-size':47, textLength:legendWidths[s], lengthAdjust:'spacingAndGlyphs'}, name);
    
    
  });
});
</script>
</body>
</html>
